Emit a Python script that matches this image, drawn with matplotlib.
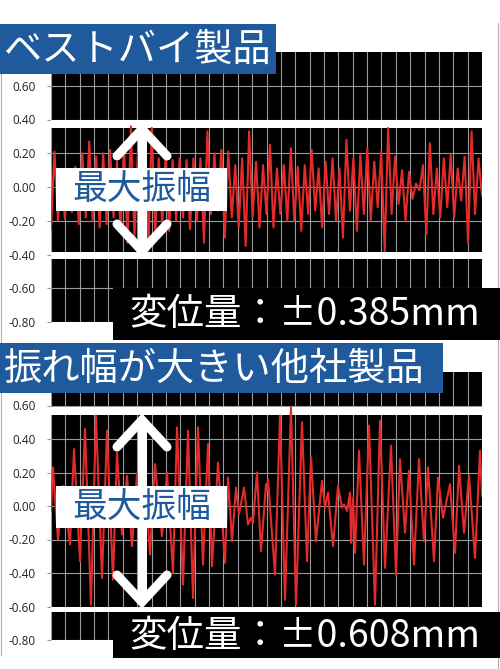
import numpy as np
import matplotlib.pyplot as plt
from matplotlib.patches import Rectangle
from matplotlib.lines import Line2D

# ─── data ────────────────────────────────────────────────────────────────────
# best-buy product: waveform, alternating troughs / peaks (evenly sampled)
best_vals = [
    -0.25, 0.21, -0.20, 0.06, -0.19, 0.10, -0.15, 0.12, -0.22, 0.20,
    -0.18, 0.27, -0.20, 0.18, -0.24, 0.20, -0.22, 0.22, -0.18, 0.15,
    -0.26, 0.25, -0.33, 0.36, -0.30, 0.20, -0.25, 0.28, -0.38, 0.35,
    -0.28, 0.17, -0.22, 0.20, -0.26, 0.16, -0.20, 0.17, -0.18, 0.16,
    -0.25, 0.17, -0.20,
    0.17, -0.33, 0.33, -0.16, 0.20, -0.14, 0.22, -0.30, 0.21, -0.18,
    0.13, -0.24, 0.17, -0.35, 0.33, -0.18, 0.15, -0.24, 0.13, -0.16,
    0.25, -0.24, 0.11, -0.16, 0.13, -0.20, 0.23, -0.20, 0.12, -0.26,
    0.13, -0.16, 0.22, -0.14, 0.11, -0.24, 0.15, -0.16, 0.17, -0.20,
    0.11,
    -0.30, 0.28, -0.14, 0.17, -0.26, 0.19, -0.16, 0.23, -0.20, 0.15,
    -0.12, 0.21, -0.38, 0.35, -0.16, 0.18, -0.10, 0.10, -0.20, 0.09,
    -0.07, 0.02, -0.02, 0.13, -0.28, 0.26, -0.16, 0.11, -0.18, 0.17,
    -0.12, 0.19, -0.18, 0.11, -0.08, 0.18, -0.33, 0.33, -0.16, 0.17,
    -0.05,
]

# other maker: sample time (0..431) and displacement
other_t = [
    0, 2, 7, 12, 19, 23, 29, 34, 40, 45, 51, 56, 62, 66, 71, 76, 81, 86,
    91, 95, 99, 104, 111, 116, 122, 126, 132, 137, 142, 147, 152, 157, 161,
    167, 174, 177, 181, 185, 188, 193, 197, 200, 202, 206, 210, 215, 216,
    217, 224, 229, 234, 240, 245, 251, 256, 260, 265, 271, 274, 277, 282,
    287, 291, 293, 296, 299, 300, 302, 304, 308, 313, 318, 324, 329, 334,
    340, 345, 349, 354, 358, 363, 368, 373, 377, 383, 387, 392, 399, 404,
    408, 413, 418, 424, 429, 431,
]
other_vals = [
    -0.03, 0.23, -0.20, 0.12, -0.23, 0.34, -0.33, 0.46, -0.59, 0.54,
    -0.43, 0.45, -0.44, 0.32, -0.17, 0.18, -0.24, 0.19, -0.12, 0.08,
    -0.29, 0.25, -0.18, 0.20, -0.40, 0.47, -0.47, 0.45, -0.55, 0.47,
    -0.35, 0.37, -0.36, 0.26, -0.34, 0.17, -0.21, 0.11, -0.05, 0.11,
    -0.11, -0.07, -0.10, 0.20, -0.27, 0.13, 0.09, 0.16, -0.41, 0.54,
    -0.56, 0.59, -0.59, 0.50, -0.33, 0.29, -0.21, 0.15, -0.01, 0.08,
    -0.24, 0.12, -0.01, 0.01, -0.03, 0.08, -0.22, 0.05, -0.28, 0.33,
    -0.35, 0.48, -0.59, 0.51, -0.37, 0.36, -0.41, 0.28, -0.16, 0.21,
    -0.35, 0.28, -0.21, 0.23, -0.33, 0.17, -0.07, 0.13, -0.28, 0.24,
    -0.16, 0.18, -0.31, 0.33, 0.06,
]

y_ticks = [0.60, 0.40, 0.20, 0.00, -0.20, -0.40, -0.60, -0.80]

best_band = [(0.352, 0.398), (-0.428, -0.388)]
other_band = [(0.545, 0.592), (-0.635, -0.600)]

titles = ['ベストバイ製品', '振れ幅が大きい他社製品']
amp_label = '最大振幅'
disp_texts = ['変位量：±0.385mm', '変位量：±0.608mm']
# ──────────────────────────────────────────────────────────────────────────────

W, H = 500, 669
JP = ['Noto Sans CJK JP', 'DejaVu Sans']
BLUE = '#1f5a9c'
RED = '#e32b2b'


def fx(x):
    return x / W


def fy(y):
    return 1 - y / H


def draw_panel(ax, t, v, xmax, bands):
    ax.set_facecolor('black')
    ax.set_xlim(0, xmax)
    ax.set_ylim(-0.8, 0.8)
    ax.set_xticks(np.linspace(0, xmax, 31))
    ax.tick_params(axis='x', length=0, labelbottom=False)
    ax.set_yticks(y_ticks)
    ax.set_yticklabels([f'{v_:.2f}' for v_ in y_ticks],
                       fontfamily='Open Sans', fontsize=8.5, color='#222222')
    ax.tick_params(axis='y', length=3, width=0.8, color='#999999', pad=8)
    ax.grid(True, color='#9a9a9a', lw=0.8)
    ax.set_axisbelow(True)
    for lo, hi in bands:
        ax.axhspan(lo, hi, color='white', lw=0, zorder=1.5)
    ax.plot(t, v, color=RED, lw=1.5, solid_joinstyle='round', zorder=3)
    for s in ax.spines.values():
        s.set_visible(False)


def line(fig, xs, ys, lw, color='white', z=7):
    fig.add_artist(Line2D([fx(x) for x in xs], [fy(y) for y in ys],
                          transform=fig.transFigure, color=color, lw=lw,
                          solid_capstyle='round', solid_joinstyle='miter',
                          zorder=z))


def rect(fig, x0, y0, x1, y1, color, z):
    fig.add_artist(Rectangle((fx(x0), fy(y1)), (x1 - x0) / W, (y1 - y0) / H,
                             transform=fig.transFigure, color=color, lw=0,
                             zorder=z))


fig = plt.figure(figsize=(W / 100, H / 100), dpi=100)

ax1 = fig.add_axes([fx(51), fy(322), 431 / W, 270 / H])
draw_panel(ax1, np.arange(len(best_vals)), best_vals, len(best_vals) - 1, best_band)

ax2 = fig.add_axes([fx(51), fy(640), 431 / W, 268 / H])
draw_panel(ax2, other_t, other_vals, 431, other_band)

# outer frame lines
line(fig, [1, 1], [24, 655], 0.8, color='#b0b0b0', z=1)
line(fig, [498, 498], [23, 669], 0.8, color='#b0b0b0', z=1)

# per-panel overlays: title box, arrow, label box, displacement box
specs = [
    dict(title_box=(0, 24, 276, 74), tip_top=129, tip_bot=251,
         lab_box=(56, 168, 227, 211), disp_box=(113, 288, 500, 340)),
    dict(title_box=(0, 343, 443, 393), tip_top=420, tip_bot=602,
         lab_box=(56, 486, 227, 528), disp_box=(113, 612, 500, 658)),
]

for sp, title, disp in zip(specs, titles, disp_texts):
    x0, y0, x1, y1 = sp['title_box']
    rect(fig, x0, y0, x1, y1, BLUE, 5)
    fig.text(fx(4), fy((y0 + y1) / 2 + 1), title, color='white',
             fontsize=27.5, family=JP, ha='left', va='center', zorder=6)

    ax_x = 142
    a, b = sp['tip_top'], sp['tip_bot']
    line(fig, [ax_x, ax_x], [a + 3, b - 3], 6.5)
    line(fig, [ax_x - 25, ax_x, ax_x + 25], [a + 27, a, a + 27], 6.5)
    line(fig, [ax_x - 25, ax_x, ax_x + 25], [b - 27, b, b - 27], 6.5)

    x0, y0, x1, y1 = sp['lab_box']
    rect(fig, x0, y0, x1, y1, 'white', 8)
    fig.text(fx((x0 + x1) / 2), fy((y0 + y1) / 2 + 1), amp_label,
             color=BLUE, fontsize=25, family=JP, ha='center', va='center',
             zorder=9)

    x0, y0, x1, y1 = sp['disp_box']
    rect(fig, x0, y0, x1, y1, 'black', 5)
    fig.text(fx(129), fy((y0 + y1) / 2 + 1), disp, color='white',
             fontsize=27, family=JP, ha='left', va='center', zorder=6)

fig.savefig('out.png', dpi=100, facecolor='white')
